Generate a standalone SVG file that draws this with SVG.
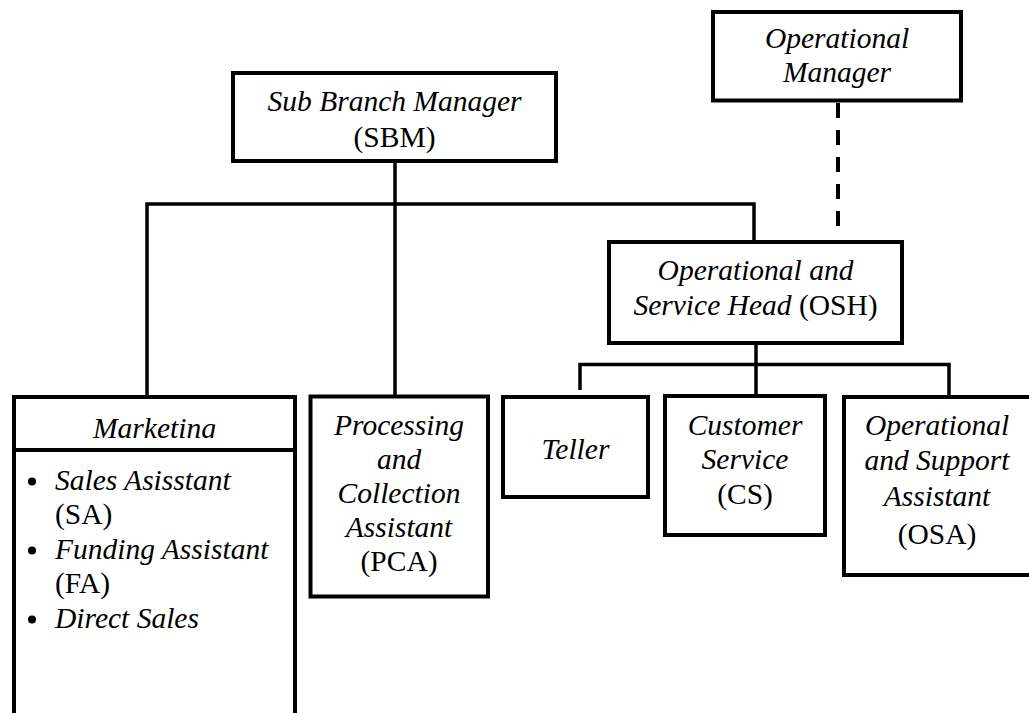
<svg xmlns="http://www.w3.org/2000/svg" width="1029" height="713" viewBox="0 0 1029 713">
<style>
.box{fill:#fff;stroke:#000;stroke-width:4}
.ln{fill:none;stroke:#000;stroke-width:3.5}
.dash{fill:none;stroke:#000;stroke-width:4;stroke-dasharray:15 12}
text{font-family:"Liberation Serif","Times New Roman",serif;font-size:29.5px;fill:#000;text-anchor:middle}
.i{font-style:italic}
.l{text-anchor:start}
</style>
<defs>
<clipPath id="mkclip"><rect x="14" y="397" width="281" height="41"/></clipPath>
</defs>
<rect width="1029" height="713" fill="#fff"/>
<g id="connectors">
<line class="ln" x1="395" y1="161" x2="395" y2="396"/>
<polyline class="ln" points="147,396 147,204 754,204 754,242"/>
<line class="dash" x1="838" y1="103" x2="838" y2="232"/>
<line class="ln" x1="756" y1="343" x2="756" y2="396"/>
<polyline class="ln" points="580,390 580,364.5 949,364.5 949,397"/>
</g>
<g id="opmgr">
<rect class="box" x="713" y="12" width="248" height="88.5"/>
<text class="i" x="837" y="48">Operational</text>
<text class="i" x="837" y="82">Manager</text>
</g>
<g id="sbm">
<rect class="box" x="233" y="73" width="323" height="88"/>
<text class="i" x="394.5" y="111">Sub Branch Manager</text>
<text x="394.5" y="147">(SBM)</text>
</g>
<g id="osh">
<rect class="box" x="609" y="242" width="293" height="101"/>
<text class="i" x="755.5" y="280">Operational and</text>
<text x="755.5" y="315"><tspan class="i">Service Head</tspan> (OSH)</text>
</g>
<g id="marketing">
<rect class="box" x="14" y="397" width="281" height="330"/>
<line class="box" x1="14" y1="450" x2="295" y2="450"/>
<text class="i" x="154.5" y="438" clip-path="url(#mkclip)">Marketing</text>
<circle cx="32" cy="481.5" r="4"/>
<circle cx="32" cy="550.5" r="4"/>
<circle cx="32" cy="619.5" r="4"/>
<text class="i l" x="55" y="490">Sales Asisstant</text>
<text class="l" x="55" y="524">(SA)</text>
<text class="i l" x="55" y="559">Funding Assistant</text>
<text class="l" x="55" y="593">(FA)</text>
<text class="i l" x="55" y="628">Direct Sales</text>
</g>
<g id="pca">
<rect class="box" x="310.5" y="396.5" width="177.5" height="200"/>
<text class="i" x="399" y="435">Processing</text>
<text class="i" x="399" y="469">and</text>
<text class="i" x="399" y="503">Collection</text>
<text class="i" x="399" y="537">Assistant</text>
<text x="399" y="571">(PCA)</text>
</g>
<g id="teller">
<rect class="box" x="503" y="397" width="145" height="100"/>
<text class="i" x="575.5" y="459">Teller</text>
</g>
<g id="cs">
<rect class="box" x="665" y="396" width="160" height="139"/>
<text class="i" x="745" y="435">Customer</text>
<text class="i" x="745" y="469">Service</text>
<text x="745" y="504">(CS)</text>
</g>
<g id="osa">
<rect class="box" x="844" y="397" width="200" height="178"/>
<text class="i" x="937" y="435">Operational</text>
<text class="i" x="937" y="470">and Support</text>
<text class="i" x="937" y="506">Assistant</text>
<text x="937" y="544">(OSA)</text>
</g>
</svg>
